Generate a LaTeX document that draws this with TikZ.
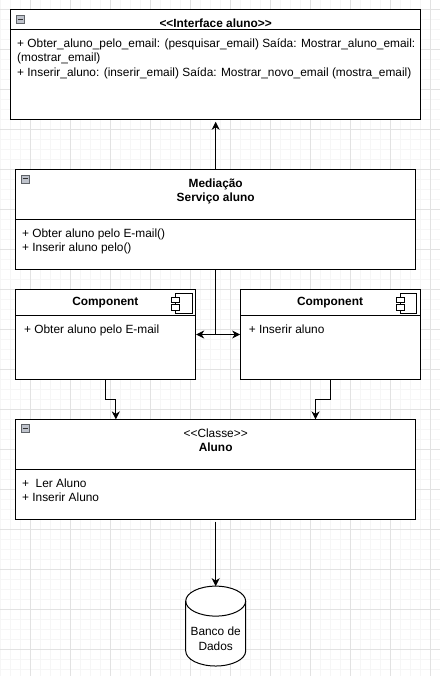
\documentclass[tikz,border=0pt]{standalone}
\usepackage{fontspec}
\setmainfont{Liberation Sans}
\usetikzlibrary{positioning,arrows.meta,calc}
\definecolor{gridmajor}{HTML}{E2E2E2}
\definecolor{gridminor}{HTML}{F6F6F6}
\definecolor{iconfill}{HTML}{BFC3CC}
\definecolor{iconline}{HTML}{5F6368}

\begin{document}
\begin{tikzpicture}[
    x=1pt, y=-1pt,
    >=Stealth,
    umlbox/.style={
        rectangle,
        draw=black,
        fill=white,
        line width=1pt,
        inner sep=0pt
    },
    header/.style={
        align=center,
        inner sep=0pt,
        font=\fontsize{11.9}{14}\selectfont\bfseries
    },
    member/.style={
        align=left,
        anchor=north west,
        inner sep=0pt,
        font=\fontsize{11.9}{14.5}\selectfont
    },
    divider/.style={line width=1pt, black},
    collapse/.style={
        rectangle,
        draw=iconline,
        fill=iconfill,
        line width=0.7pt,
        minimum size=8pt,
        inner sep=0pt,
        path picture={\draw[line width=1pt, black!80]
            ([xshift=1.5pt]path picture bounding box.west) --
            ([xshift=-1.5pt]path picture bounding box.east);}
    },
    iconbody/.style={
        rectangle,
        draw=black,
        fill=white,
        line width=0.8pt,
        minimum width=17pt,
        minimum height=20pt,
        inner sep=0pt
    },
    icontab/.style={
        rectangle,
        draw=black,
        fill=white,
        line width=0.8pt,
        minimum width=8pt,
        minimum height=5.5pt,
        inner sep=0pt
    },
    arrow/.style={-{Stealth[length=8pt, width=8pt, inset=2.5pt]}, line width=1pt, black},
    plainline/.style={line width=1pt, black}
]

% --- Fondo y cuadricula ---
\fill[white] (0,0) rectangle (440,676);
\foreach \gx in {0,10,...,430} {
    \draw[gridminor, line width=1pt] (\gx+0.5,0) -- (\gx+0.5,676);
}
\foreach \gy in {9,19,...,669} {
    \draw[gridminor, line width=1pt] (0,\gy+0.5) -- (440,\gy+0.5);
}
\foreach \gx in {30,70,...,430} {
    \draw[gridmajor, line width=1pt] (\gx+0.5,0) -- (\gx+0.5,676);
}
\foreach \gy in {9,49,...,649} {
    \draw[gridmajor, line width=1pt] (0,\gy+0.5) -- (440,\gy+0.5);
}
\useasboundingbox (0,0) rectangle (440,676);

% --- Interface ---
\node[umlbox, minimum width=410pt, minimum height=110pt] (iface) at (215.5,64.5) {};
\node[header] (ifacetitle) at (215.5,23) {<{}<Interface aluno>{}>};
\node[member] (ifacelist) at (16.5,38) {+ Obter\_aluno\_pelo\_email: (pesquisar\_email) Saída: Mostrar\_aluno\_email:\\
(mostrar\_email)\\
+ Inserir\_aluno: (inserir\_email) Saída: Mostrar\_novo\_email (mostra\_email)};
\node[collapse] (ifaceicon) at (19.7,18.7) {};
\draw[divider] (iface.west |- 0,29.5) -- (iface.east |- 0,29.5);

% --- Mediacao ---
\node[umlbox, minimum width=400pt, minimum height=100pt] (media) at (215.5,219.5) {};
\node[header] (mediatitle) at (215.5,191) {Mediação\\Serviço aluno};
\node[member] (medialist) at (21.5,228.5) {+ Obter aluno pelo E-mail()\\+ Inserir aluno pelo()};
\node[collapse] (mediaicon) at (24.7,178.7) {};
\draw[divider] (media.west |- 0,219.5) -- (media.east |- 0,219.5);

% --- Componentes ---
\node[umlbox, minimum width=180pt, minimum height=90pt] (compa) at (105.5,334.5) {};
\node[header] (compatitle) at (105,303) {Component};
\node[member] (compalist) at (23.5,325) {+ Obter aluno pelo E-mail};
\draw[divider] (compa.west |- 0,315.5) -- (compa.east |- 0,315.5);

\node[umlbox, minimum width=180pt, minimum height=90pt] (compb) at (330.5,334.5) {};
\node[header] (compbtitle) at (330,303) {Component};
\node[member] (compblist) at (248.5,325) {+ Inserir aluno};
\draw[divider] (compb.west |- 0,315.5) -- (compb.east |- 0,315.5);

% --- Iconos de componente ---
\node[iconbody] (iconabody) at (183.5,303.5) {};
\node[icontab]  (iconatop)  at (175.5,300) {};
\node[icontab]  (iconalow)  at (175.5,307.5) {};
\node[iconbody] (iconbbody) at (408.5,303.5) {};
\node[icontab]  (iconbtop)  at (400.5,300) {};
\node[icontab]  (iconblow)  at (400.5,307.5) {};

% --- Classe ---
\node[umlbox, minimum width=400pt, minimum height=100pt] (classe) at (215.5,469.5) {};
\node[header, font=\fontsize{11.9}{14}\selectfont] (classetitle) at (215.5,440.5) {<{}<Classe>{}>\\\bfseries Aluno};
\node[member] (classelist) at (21.5,478.5) {+ \ Ler Aluno\\+ Inserir Aluno};
\node[collapse] (classeicon) at (24.7,428.5) {};
\draw[divider] (classe.west |- 0,469.5) -- (classe.east |- 0,469.5);

% --- Banco de dados ---
\coordinate (banco) at (215.5,586.5);
\draw[line width=1pt, black, fill=white] (185.5,601.5)
    .. controls (185.5,593.2) and (199,586.5) .. (banco)
    .. controls (232,586.5) and (245.5,593.2) .. (245.5,601.5)
    -- (245.5,651.5)
    .. controls (245.5,659.8) and (232,666.5) .. (215.5,666.5)
    .. controls (199,666.5) and (185.5,659.8) .. (185.5,651.5)
    -- cycle;
\draw[line width=1pt, black] (185.5,601.5)
    .. controls (185.5,609.8) and (199,616.5) .. (215.5,616.5)
    .. controls (232,616.5) and (245.5,609.8) .. (245.5,601.5);
\node[align=center, inner sep=0pt, font=\fontsize{11.9}{15}\selectfont] (bancotext) at (215.5,639.5) {Banco de\\Dados};

% --- Flechas ---
\coordinate (juncao) at (media.south |- compa.east);
\coordinate (ina) at (115.5,419.5);
\coordinate (inb) at (315.5,419.5);

\draw[arrow, shorten >=1.5pt] (media.north) -- (iface.south);
\draw[plainline] (media.south) -- (juncao);
\draw[arrow] (juncao) -- (compa.east);
\draw[arrow] (juncao) -- (compb.west);
\draw[arrow] (compa.south) -- ++(0,20) -| (ina);
\draw[arrow] (compb.south) -- ++(0,20) -| (inb);
\draw[arrow, shorten <=2pt] (classe.south) -- (banco);

\end{tikzpicture}
\end{document}
